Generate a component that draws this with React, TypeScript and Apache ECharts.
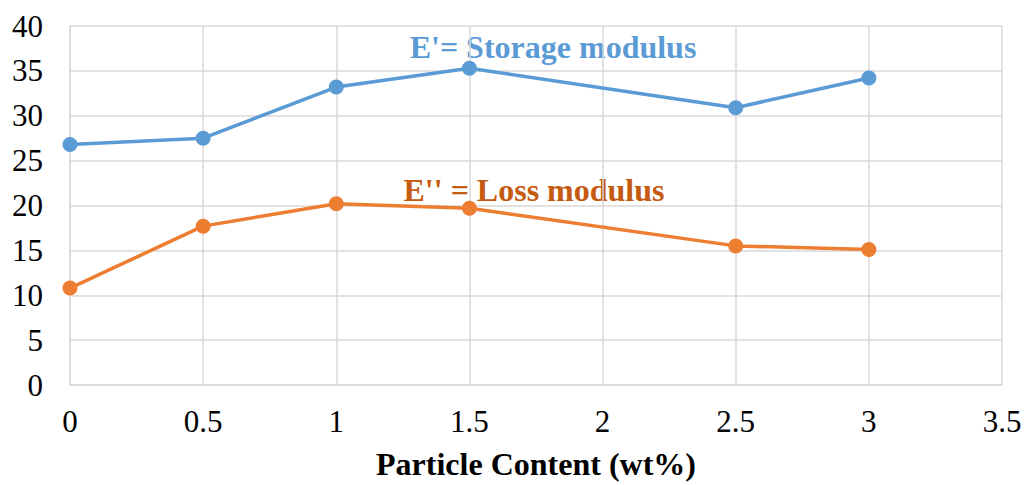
import React, { useEffect, useRef } from "react";
import * as echarts from "echarts";

const xValues = [0, 0.5, 1, 1.5, 2.5, 3];
const storageModulus = [26.8, 27.5, 33.2, 35.3, 30.9, 34.2];
const lossModulus = [10.8, 17.7, 20.2, 19.7, 15.5, 15.1];
const xAxisTitle = "Particle Content (wt%)";
const storageLabel = "E'= Storage modulus";
const lossLabel = "E'' = Loss modulus";

const FONT = "Liberation Serif";

export default function App() {
  const ref = useRef<HTMLDivElement>(null);
  useEffect(() => {
    if (!ref.current) return;
    const chart = echarts.init(ref.current, undefined, { renderer: "svg" });
    const pair = (ys: number[]) => xValues.map((x, i) => [x, ys[i]]);
    const labelStyle = { fontFamily: FONT, fontSize: 31, color: "#000", fontWeight: "normal" as const };
    chart.setOption({
      animation: false,
      backgroundColor: "#ffffff",
      textStyle: { fontFamily: FONT },
      grid: { left: 70, right: 28, top: 26, bottom: 99 },
      xAxis: {
        type: "value",
        min: 0,
        max: 3.5,
        interval: 0.5,
        name: xAxisTitle,
        nameLocation: "middle",
        nameGap: 63,
        nameTextStyle: { fontFamily: FONT, fontSize: 32, fontWeight: "bold", color: "#000" },
        axisLine: { show: true, lineStyle: { color: "#d9d9d9", width: 1.5 } },
        axisTick: { show: false },
        splitLine: { show: true, lineStyle: { color: "#d9d9d9", width: 1.5 } },
        axisLabel: { ...labelStyle, margin: 21 },
      },
      yAxis: {
        type: "value",
        min: 0,
        max: 40,
        interval: 5,
        axisLine: { show: true, lineStyle: { color: "#d9d9d9", width: 1.5 } },
        axisTick: { show: false },
        splitLine: { show: true, lineStyle: { color: "#d9d9d9", width: 1.5 } },
        axisLabel: { ...labelStyle, margin: 27 },
      },
      series: [
        {
          type: "line",
          data: pair(storageModulus),
          symbol: "circle",
          symbolSize: 15,
          lineStyle: { color: "#5b9bd5", width: 3.5 },
          itemStyle: { color: "#5b9bd5" },
        },
        {
          type: "line",
          data: pair(lossModulus),
          symbol: "circle",
          symbolSize: 15,
          lineStyle: { color: "#ed7d31", width: 3.5 },
          itemStyle: { color: "#ed7d31" },
        },
      ],
      graphic: [
        {
          type: "text",
          x: 553,
          y: 47,
          style: {
            text: storageLabel,
            fontFamily: FONT,
            fontSize: 32,
            fontWeight: "bold",
            fill: "#5b9bd5",
            align: "center",
            verticalAlign: "middle",
          },
        },
        {
          type: "text",
          x: 534,
          y: 190,
          style: {
            text: lossLabel,
            fontFamily: FONT,
            fontSize: 32,
            fontWeight: "bold",
            fill: "#c55a11",
            align: "center",
            verticalAlign: "middle",
          },
        },
      ],
    });
    return () => chart.dispose();
  }, []);
  return <div ref={ref} style={{ width: 1030, height: 485, position: "absolute", left: 0, top: 0 }} />;
}
